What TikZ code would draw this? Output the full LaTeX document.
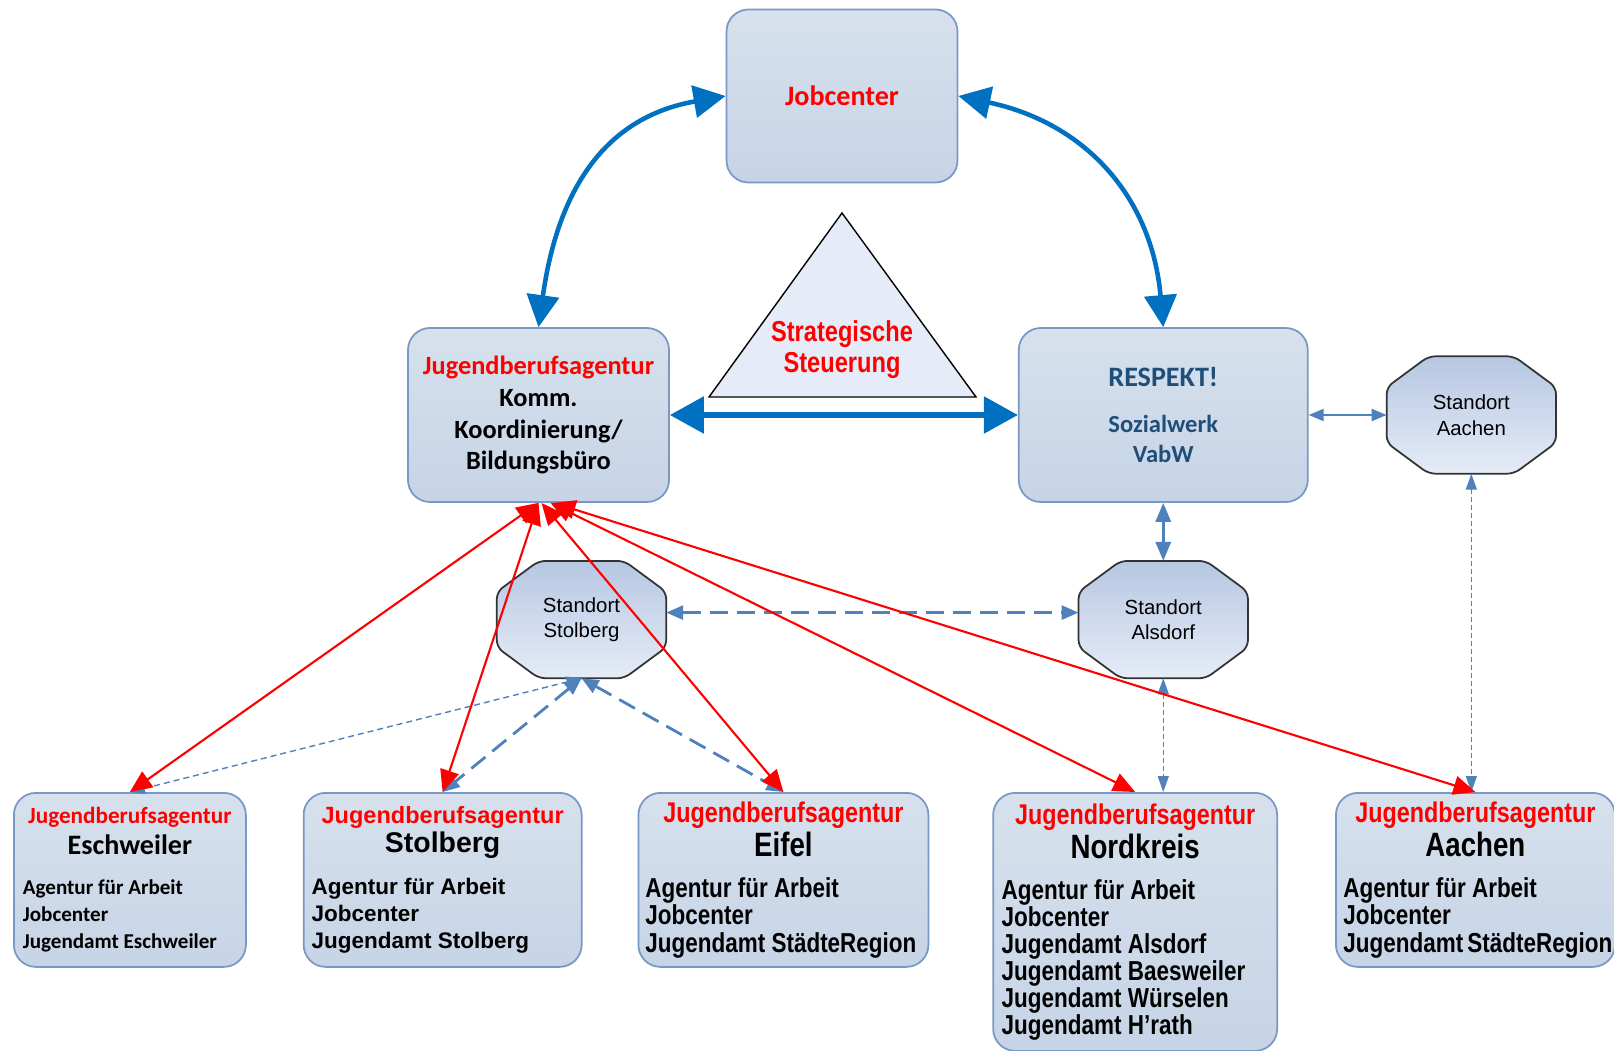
\documentclass[tikz,border=0pt]{standalone}
\usepackage{fontspec}
\setmainfont{Carlito}
\newfontfamily\arialfont{Liberation Sans}
\newfontfamily\narrowfont[FakeStretch=0.82]{Liberation Sans}
\usetikzlibrary{arrows.meta,positioning,calc,backgrounds}
\definecolor{boxtop}{RGB}{215,225,237}
\definecolor{boxbot}{RGB}{198,212,230}
\definecolor{boxline}{RGB}{122,152,198}
\definecolor{octtop}{RGB}{182,199,226}
\definecolor{octbot}{RGB}{230,236,247}
\definecolor{trifill}{RGB}{229,236,247}
\definecolor{jcblue}{RGB}{0,112,192}
\definecolor{steel}{RGB}{79,129,189}
\definecolor{respblue}{RGB}{31,78,121}
\hyphenpenalty=10000
\exhyphenpenalty=10000

\begin{document}
\begin{tikzpicture}[x=1mm,y=1mm,
  box/.style={draw=boxline,line width=0.5pt,rounded corners=2.2mm,top color=boxtop,bottom color=boxbot,align=center,inner sep=0pt},
  jbox/.style={box,minimum height=17.4mm,anchor=north west},
  octo/.style={minimum width=16.8mm,minimum height=11.6mm,inner sep=0pt,align=center,font=\arialfont\fontsize{5.8}{7.3}\selectfont},
  octline/.style={draw=black!80,line width=0.5pt,rounded corners=0.7mm,top color=octtop,bottom color=octbot},
  tri/.style={draw=black,line width=0.4pt,fill=trifill},
  thickarr/.style={draw=jcblue,line width=1.3pt,arrows={Triangle[length=3.2mm,width=3.2mm]-Triangle[length=3.2mm,width=3.2mm]}},
  wideblue/.style={draw=jcblue,line width=1.6pt,arrows={Triangle[length=3.4mm,width=3.6mm]-Triangle[length=3.4mm,width=3.6mm]}},
  steelthick/.style={draw=steel,line width=0.9pt,arrows={Triangle[length=1.9mm,width=1.5mm]-Triangle[length=1.9mm,width=1.5mm]}},
  steelarr/.style={draw=steel,line width=0.6pt,arrows={Triangle[length=1.5mm,width=1.2mm]-Triangle[length=1.5mm,width=1.2mm]}},
  thindash/.style={draw=steel,line width=0.4pt,dash pattern=on 0.5mm off 0.3mm,arrows={Triangle[length=1.6mm,width=1.1mm]-Triangle[length=1.6mm,width=1.1mm]}},
  longdash/.style={draw=steel,line width=0.8pt,dash pattern=on 1.8mm off 0.9mm,arrows={Triangle[length=1.7mm,width=1.4mm]-Triangle[length=1.7mm,width=1.4mm]}},
  finedash/.style={draw=steel,line width=0.4pt,dash pattern=on 0.6mm off 0.4mm,arrows={Triangle[length=1.5mm,width=1.1mm]-Triangle[length=1.5mm,width=1.1mm]}},
  redarr/.style={draw=red,line width=0.6pt,arrows={Triangle[length=2.2mm,width=1.9mm]-Triangle[length=2.2mm,width=1.9mm]}}
]
\useasboundingbox (0,0) rectangle (161.4,105);

% top row
\node[box,minimum width=23.1mm,minimum height=17.3mm,text=red,font=\bfseries\fontsize{8}{9.6}\selectfont] (jc) at (84.2,95.4) {Jobcenter};
\node[box,minimum width=26.1mm,minimum height=17.4mm,font=\bfseries\fontsize{7.5}{9.1}\selectfont] (jba) at (53.85,63.5)
  {\textcolor{red}{Jugendberufsagentur}\\Komm.\\Koordinierung/\\Bildungsbüro};
\node[box,minimum width=28.9mm,minimum height=17.4mm,right=34.8mm of jba,text=respblue,font=\bfseries\fontsize{7}{8.5}\selectfont] (resp)
  {{\fontsize{8}{9.6}\selectfont RESPEKT!}\\[4.5pt]Sozialwerk\\VabW};

\draw[tri] (84.2,83.7) -- (97.6,65.3) -- (70.9,65.3) -- cycle;
\node[align=center,text=red,font=\narrowfont\bfseries\fontsize{8.2}{8.6}\selectfont] (steuer) at (84.2,70.05) {Strategische\\Steuerung};

% Standorte
\node[octo,right=7.8mm of resp] (sAach) {Standort\\Aachen};
\node[octo,below=5.8mm of resp] (sAls) {Standort\\Alsdorf};
\node[octo,below=5.8mm of jba,xshift=4.3mm] (sSto) {Standort\\Stolberg};
\begin{scope}[on background layer]
\foreach \n in {sAach,sAls,sSto}
  \draw[octline] ($(\n.north west)+(4.2,0)$) -- ($(\n.north east)+(-4.2,0)$) -- ($(\n.north east)+(0,-3.1)$)
    -- ($(\n.south east)+(0,3.1)$) -- ($(\n.south east)+(-4.2,0)$) -- ($(\n.south west)+(4.2,0)$)
    -- ($(\n.south west)+(0,3.1)$) -- ($(\n.north west)+(0,-3.1)$) -- cycle;
\end{scope}

% Jugendberufsagenturen vor Ort
\node[jbox,minimum width=23.2mm,font=\bfseries] (esch) at (1.3,25.8) {\parbox{21.4mm}{\centering
  {\fontsize{6.6}{8}\selectfont\textcolor{red}{Jugendberufsagentur}\par}
  {\fontsize{8}{8.8}\selectfont Eschweiler\par}\vspace{3.6pt}
  \raggedright\fontsize{6}{7.7}\selectfont Agentur für Arbeit\\Jobcenter\\Jugendamt~Eschweiler}};
\node[jbox,right=5.6mm of esch.north east,anchor=north west,minimum width=27.8mm,font=\arialfont\bfseries] (stol) {\parbox{26.2mm}{\centering
  {\fontsize{6.7}{8}\selectfont\textcolor{red}{Jugendberufsagentur}\par}
  {\fontsize{8.1}{8.5}\selectfont Stolberg\par}\vspace{3.9pt}
  \raggedright\fontsize{6.4}{7.8}\selectfont Agentur für Arbeit\\Jobcenter\\Jugendamt~Stolberg}};
\node[jbox,right=5.5mm of stol.north east,anchor=north west,minimum width=29mm,font=\narrowfont\bfseries] (eifel) {\parbox{27.6mm}{\centering
  {\fontsize{8.1}{8}\selectfont\textcolor{red}{Jugendberufsagentur}\par}
  {\fontsize{9.6}{8.5}\selectfont Eifel\par}\vspace{3.9pt}
  \raggedright\fontsize{7.8}{7.8}\selectfont Agentur für Arbeit\\Jobcenter\\Jugendamt~StädteRegion}};
\node[jbox,right=6.3mm of eifel.north east,anchor=north west,minimum width=28.4mm,minimum height=25.8mm,font=\narrowfont\bfseries] (nord) {\parbox{26.7mm}{\centering
  {\fontsize{8.1}{8}\selectfont\textcolor{red}{Jugendberufsagentur}\par}
  {\fontsize{9.6}{8.5}\selectfont Nordkreis\par}\vspace{3.9pt}
  \raggedright\fontsize{7.8}{7.7}\selectfont Agentur für Arbeit\\Jobcenter\\Jugendamt~Alsdorf\\Jugendamt~Baesweiler\\Jugendamt~Würselen\\Jugendamt~H’rath}};
\node[jbox,right=5.7mm of nord.north east,anchor=north west,minimum width=27.9mm,font=\narrowfont\bfseries] (aach) {\parbox{26.4mm}{\centering
  {\fontsize{8.1}{8}\selectfont\textcolor{red}{Jugendberufsagentur}\par}
  {\fontsize{9.6}{8.5}\selectfont Aachen\par}\vspace{3.9pt}
  \raggedright\fontsize{7.8}{7.8}\selectfont Agentur für Arbeit\\Jobcenter\\Jugendamt~StädteRegion}};

% Steuerung
\draw[thickarr] (jc.west) to[out=190,in=82,looseness=1.11] (jba.north);
\draw[thickarr] (jc.east) to[out=-12,in=95,looseness=1.08] (resp.north);
\draw[wideblue] (jba) -- (resp);
\draw[steelarr] (resp) -- (sAach);
\draw[steelthick] (resp) -- (sAls);

% Standorte
\draw[thindash] (sAach.south) -- (sAach.south |- aach.north);
\draw[thindash] (sAls.south) -- (sAls.south |- nord.north);
\draw[longdash] ([yshift=0.7mm]sSto.east) -- ([yshift=0.7mm]sAls.west);
\draw[finedash] (sSto.south) -- (esch.north);
\draw[longdash] (sSto.south) -- (stol.north);
\draw[longdash] (sSto.south) -- (eifel.north);

% Koordinierung
\draw[redarr] (jba.south) -- (esch.north);
\draw[redarr] (jba.south) -- (stol.north);
\draw[redarr] ([xshift=0.3mm]jba.south) -- (eifel.north);
\draw[redarr] ([xshift=1.2mm]jba.south) -- (nord.north);
\draw[redarr] ([xshift=1.5mm]jba.south) -- (aach.north);
\end{tikzpicture}
\end{document}
